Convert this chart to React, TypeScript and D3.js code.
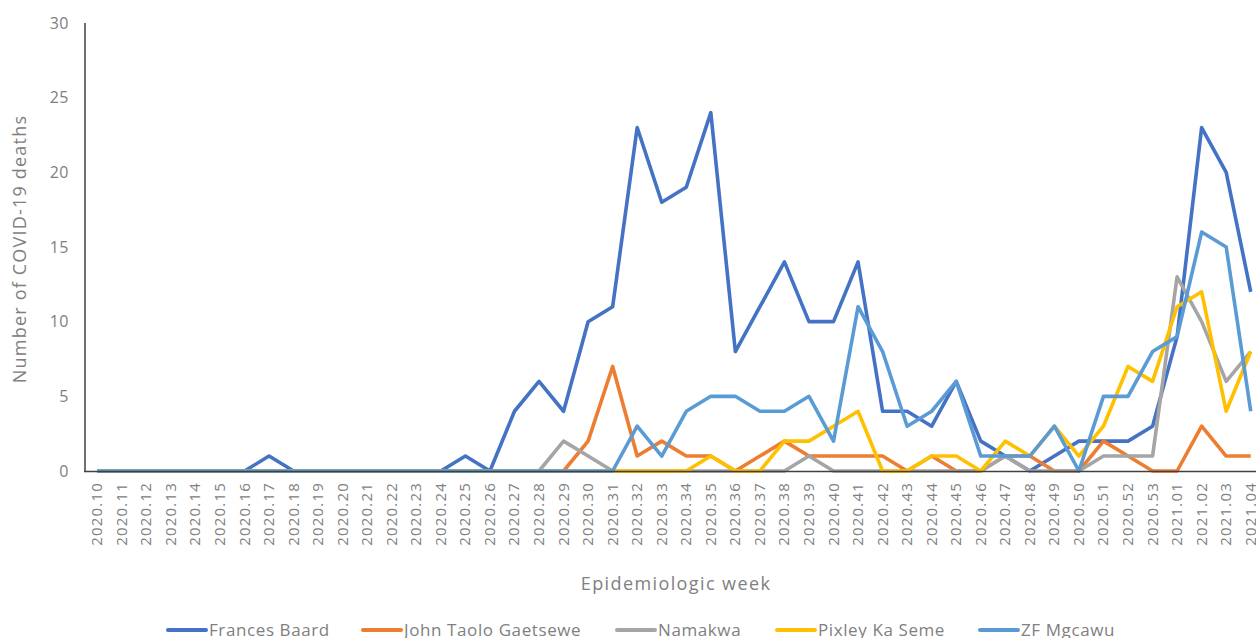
import React from "react";
import * as d3 from "d3";

const weeks = [
  "2020.10", "2020.11", "2020.12", "2020.13", "2020.14", "2020.15", "2020.16", "2020.17",
  "2020.18", "2020.19", "2020.20", "2020.21", "2020.22", "2020.23", "2020.24", "2020.25",
  "2020.26", "2020.27", "2020.28", "2020.29", "2020.30", "2020.31", "2020.32", "2020.33",
  "2020.34", "2020.35", "2020.36", "2020.37", "2020.38", "2020.39", "2020.40", "2020.41",
  "2020.42", "2020.43", "2020.44", "2020.45", "2020.46", "2020.47", "2020.48", "2020.49",
  "2020.50", "2020.51", "2020.52", "2020.53", "2021.01", "2021.02", "2021.03", "2021.04",
];

const francesBaard = [
  0, 0, 0, 0, 0, 0, 0, 1, 0, 0, 0, 0, 0, 0, 0, 1,
  0, 4, 6, 4, 10, 11, 23, 18, 19, 24, 8, 11, 14, 10, 10, 14,
  4, 4, 3, 6, 2, 1, 0, 1, 2, 2, 2, 3, 9, 23, 20, 12,
];
const johnTaoloGaetsewe = [
  0, 0, 0, 0, 0, 0, 0, 0, 0, 0, 0, 0, 0, 0, 0, 0,
  0, 0, 0, 0, 2, 7, 1, 2, 1, 1, 0, 1, 2, 1, 1, 1,
  1, 0, 1, 0, 0, 1, 1, 0, 0, 2, 1, 0, 0, 3, 1, 1,
];
const namakwa = [
  0, 0, 0, 0, 0, 0, 0, 0, 0, 0, 0, 0, 0, 0, 0, 0,
  0, 0, 0, 2, 1, 0, 0, 0, 0, 0, 0, 0, 0, 1, 0, 0,
  0, 0, 0, 0, 0, 1, 0, 0, 0, 1, 1, 1, 13, 10, 6, 8,
];
const pixleyKaSeme = [
  0, 0, 0, 0, 0, 0, 0, 0, 0, 0, 0, 0, 0, 0, 0, 0,
  0, 0, 0, 0, 0, 0, 0, 0, 0, 1, 0, 0, 2, 2, 3, 4,
  0, 0, 1, 1, 0, 2, 1, 3, 1, 3, 7, 6, 11, 12, 4, 8,
];
const zfMgcawu = [
  0, 0, 0, 0, 0, 0, 0, 0, 0, 0, 0, 0, 0, 0, 0, 0,
  0, 0, 0, 0, 0, 0, 3, 1, 4, 5, 5, 4, 4, 5, 2, 11,
  8, 3, 4, 6, 1, 1, 1, 3, 0, 5, 5, 8, 9, 16, 15, 4,
];

const seriesNames = ["Frances Baard", "John Taolo Gaetsewe", "Namakwa", "Pixley Ka Seme", "ZF Mgcawu"];
const seriesValues = [francesBaard, johnTaoloGaetsewe, namakwa, pixleyKaSeme, zfMgcawu];
const colors = ["#4472C4", "#ED7D31", "#A5A5A5", "#FFC000", "#5B9BD5"];
const yTicks = [0, 5, 10, 15, 20, 25, 30];

const width = 1256;
const height = 638;
const font = "'Open Sans', sans-serif";
const textColor = "#808080";

export default function App() {
  const x = d3.scalePoint<string>().domain(weeks).range([85, 1263]).padding(0.5);
  const y = d3.scaleLinear().domain([0, 30]).range([471, 23]);

  const line = d3
    .line<number>()
    .x((_, i) => x(weeks[i]) as number)
    .y((d) => y(d));

  // legend item starts (line left edge)
  const legendX = [168, 363, 617, 777, 980];

  return (
    <svg
      width={width}
      height={height}
      style={{ position: "absolute", left: 0, top: 0, background: "#fff" }}
      fontFamily={font}
    >
      {/* y ticks */}
      {yTicks.map((t) => (
        <text key={t} x={69} y={y(t)} dy="0.35em" textAnchor="end" fontSize={16} letterSpacing={0.5} fill={textColor}>
          {t}
        </text>
      ))}
      <text
        transform={`translate(20, ${y(15) + 2}) rotate(-90)`}
        textAnchor="middle"
        fontSize={18}
        letterSpacing={1.2}
        fill={textColor}
        dy="0.35em"
      >
        Number of COVID-19 deaths
      </text>

      {/* x tick labels */}
      {weeks.map((w) => (
        <text
          key={w}
          transform={`translate(${(x(w) as number) + 5}, 482) rotate(-90)`}
          textAnchor="end"
          fontSize={15}
          letterSpacing={1.2}
          fill={textColor}
        >
          {w}
        </text>
      ))}
      <text x={676} y={590} textAnchor="middle" fontSize={18} letterSpacing={1.4} fill={textColor}>
        Epidemiologic week
      </text>

      {/* series */}
      {seriesValues.map((vals, k) => (
        <path
          key={seriesNames[k]}
          d={line(vals) || ""}
          fill="none"
          stroke={colors[k]}
          strokeWidth={3.6}
          strokeLinejoin="round"
        />
      ))}

      {/* axes */}
      <line x1={85} x2={85} y1={23} y2={472} stroke="#404040" strokeWidth={1.5} />
      <line x1={84} x2={width} y1={471.5} y2={471.5} stroke="#404040" strokeWidth={1.5} />

      {/* legend */}
      {seriesNames.map((n, k) => (
        <g key={n}>
          <line
            x1={legendX[k]}
            x2={legendX[k] + 38}
            y1={630}
            y2={630}
            stroke={colors[k]}
            strokeWidth={4}
            strokeLinecap="round"
          />
          <text x={legendX[k] + 41} y={630} dy="0.35em" fontSize={17} letterSpacing={0.6} fill={textColor}>
            {n}
          </text>
        </g>
      ))}
    </svg>
  );
}
